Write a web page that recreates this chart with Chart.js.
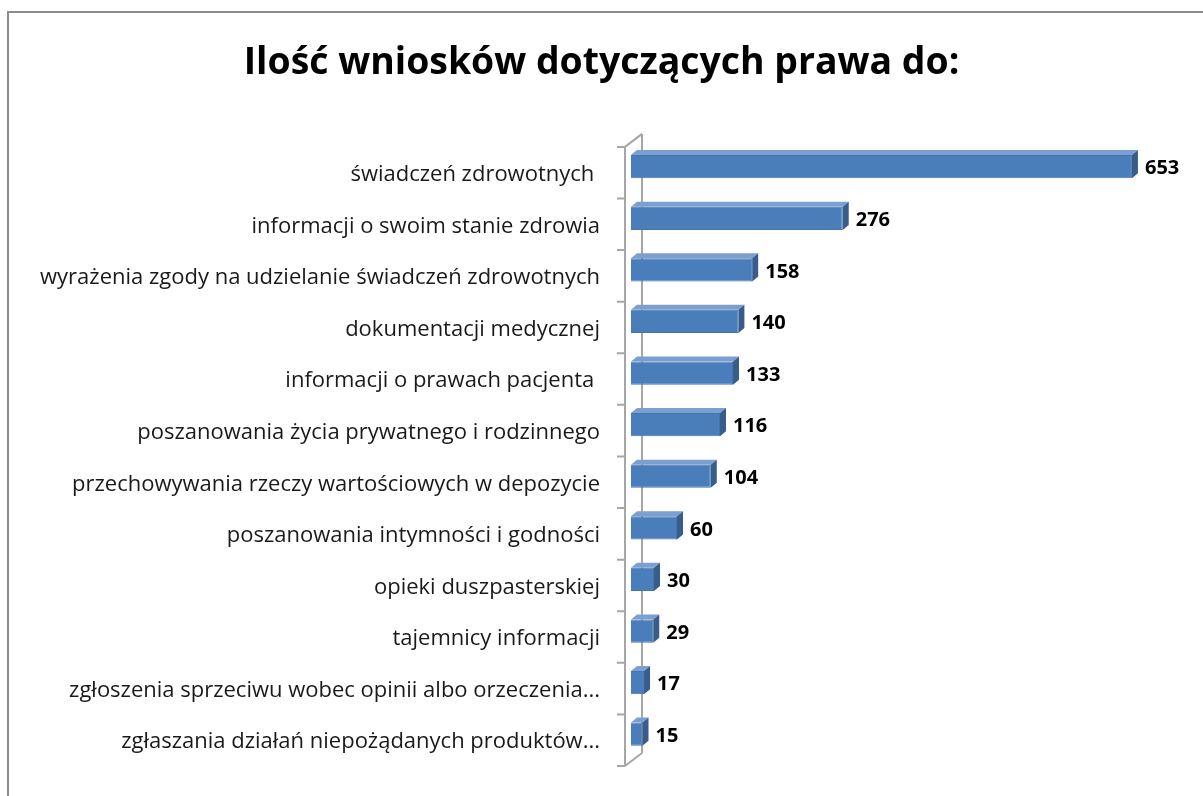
<!DOCTYPE html>
<html>
<head>
<meta charset="utf-8">
<script src="https://cdn.jsdelivr.net/npm/chart.js@4"></script>
<style>
  body { margin: 0; background: #fff; }
  canvas { display: block; }
</style>
</head>
<body>
<canvas id="wnioskiChart" width="1203" height="796"></canvas>
<script>
// dane z wykresu
const categories = [
  "świadczeń zdrowotnych ",
  "informacji o swoim stanie zdrowia",
  "wyrażenia zgody na udzielanie świadczeń zdrowotnych",
  "dokumentacji medycznej",
  "informacji o prawach pacjenta ",
  "poszanowania życia prywatnego i rodzinnego",
  "przechowywania rzeczy wartościowych w depozycie",
  "poszanowania intymności i godności",
  "opieki duszpasterskiej",
  "tajemnicy informacji",
  "zgłoszenia sprzeciwu wobec opinii albo orzeczenia...",
  "zgłaszania działań niepożądanych produktów..."
];
const values = [653, 276, 158, 140, 133, 116, 104, 60, 30, 29, 17, 15];
const chartTitle = "Ilość wniosków dotyczących prawa do:";

// przesunięcia "3D" (głębokość słupka i płaszczyzn osi)
const barDepth = { dx: 6, dy: 5 };
const frontPlane = { dx: -6, dy: 6 };
const backPlane = { dx: 11, dy: -7 };

const axisColor = '#a6a6a6';

const threeD = {
  id: 'threeD',
  beforeDraw(chart) {
    const ctx = chart.ctx;
    ctx.save();
    ctx.strokeStyle = '#8c8c8c';
    ctx.lineWidth = 2;
    ctx.beginPath();
    ctx.moveTo(8, chart.height);
    ctx.lineTo(8, 12);
    ctx.lineTo(chart.width, 12);
    ctx.stroke();
    ctx.restore();
  },
  beforeDatasetsDraw(chart) {
    const ctx = chart.ctx;
    const a = chart.chartArea;
    const n = categories.length;
    const step = (a.bottom - a.top) / n;
    const fx = a.left + frontPlane.dx, bx = a.left + backPlane.dx;
    ctx.save();
    ctx.strokeStyle = axisColor;
    ctx.lineWidth = 2;
    ctx.beginPath();
    // tylna linia
    ctx.moveTo(bx, a.top + backPlane.dy);
    ctx.lineTo(bx, a.bottom + backPlane.dy);
    // przednia linia
    ctx.moveTo(fx, a.top + frontPlane.dy);
    ctx.lineTo(fx, a.bottom + frontPlane.dy);
    // skosy
    ctx.moveTo(fx, a.top + frontPlane.dy);
    ctx.lineTo(bx, a.top + backPlane.dy);
    ctx.moveTo(fx, a.bottom + frontPlane.dy);
    ctx.lineTo(bx, a.bottom + backPlane.dy);
    // znaczniki
    for (let i = 0; i <= n; i++) {
      const y = a.top + i * step + frontPlane.dy;
      ctx.moveTo(fx - 8, y);
      ctx.lineTo(fx, y);
    }
    ctx.stroke();
    ctx.restore();
  },
  afterDatasetsDraw(chart) {
    const ctx = chart.ctx;
    const meta = chart.getDatasetMeta(0);
    ctx.save();
    meta.data.forEach((bar, i) => {
      const top = bar.y - bar.height / 2;
      const bottom = bar.y + bar.height / 2;
      const left = bar.base, right = bar.x;
      // gora
      ctx.fillStyle = '#7b9fcf';
      ctx.beginPath();
      ctx.moveTo(left, top);
      ctx.lineTo(left + barDepth.dx, top - barDepth.dy);
      ctx.lineTo(right + barDepth.dx, top - barDepth.dy);
      ctx.lineTo(right, top);
      ctx.closePath();
      ctx.fill();
      // bok
      ctx.fillStyle = '#385d8a';
      ctx.beginPath();
      ctx.moveTo(right, top);
      ctx.lineTo(right + barDepth.dx, top - barDepth.dy);
      ctx.lineTo(right + barDepth.dx, bottom - barDepth.dy);
      ctx.lineTo(right, bottom);
      ctx.closePath();
      ctx.fill();
      // etykieta wartosci
      ctx.fillStyle = '#000';
      ctx.font = 'bold 20px "Open Sans"';
      ctx.textBaseline = 'middle';
      ctx.textAlign = 'left';
      ctx.fillText(values[i], right + 13, bar.y + 2);
    });
    ctx.restore();
  }
};

new Chart(document.getElementById('wnioskiChart'), {
  type: 'bar',
  data: {
    labels: categories,
    datasets: [{
      data: values,
      backgroundColor: '#4a7ebb',
      borderColor: '#4375b3',
      borderWidth: 1,
      barPercentage: 0.45,
      categoryPercentage: 1
    }]
  },
  options: {
    indexAxis: 'y',
    responsive: false,
    animation: false,
    layout: { padding: { top: 12, right: 35, bottom: 36, left: 35 } },
    plugins: {
      legend: { display: false },
      tooltip: { enabled: false },
      title: {
        display: true,
        text: chartTitle,
        color: '#000',
        font: { family: '"Open Sans"', size: 37.4, weight: 'bold', lineHeight: 1.2 },
        padding: { top: 29, bottom: 55 }
      }
    },
    scales: {
      x: { display: false, min: 0, max: 700 },
      y: {
        afterFit(scale) {
          scale.width = 596;
          scale.paddingTop = 0;
          scale.paddingBottom = 0;
        },
        grid: { display: false, drawTicks: false },
        border: { display: false },
        ticks: {
          color: '#1a1a1a',
          padding: 31,
          labelOffset: 8,
          font: { family: '"Open Sans"', size: 22 }
        }
      }
    }
  },
  plugins: [threeD]
});
</script>
</body>
</html>
